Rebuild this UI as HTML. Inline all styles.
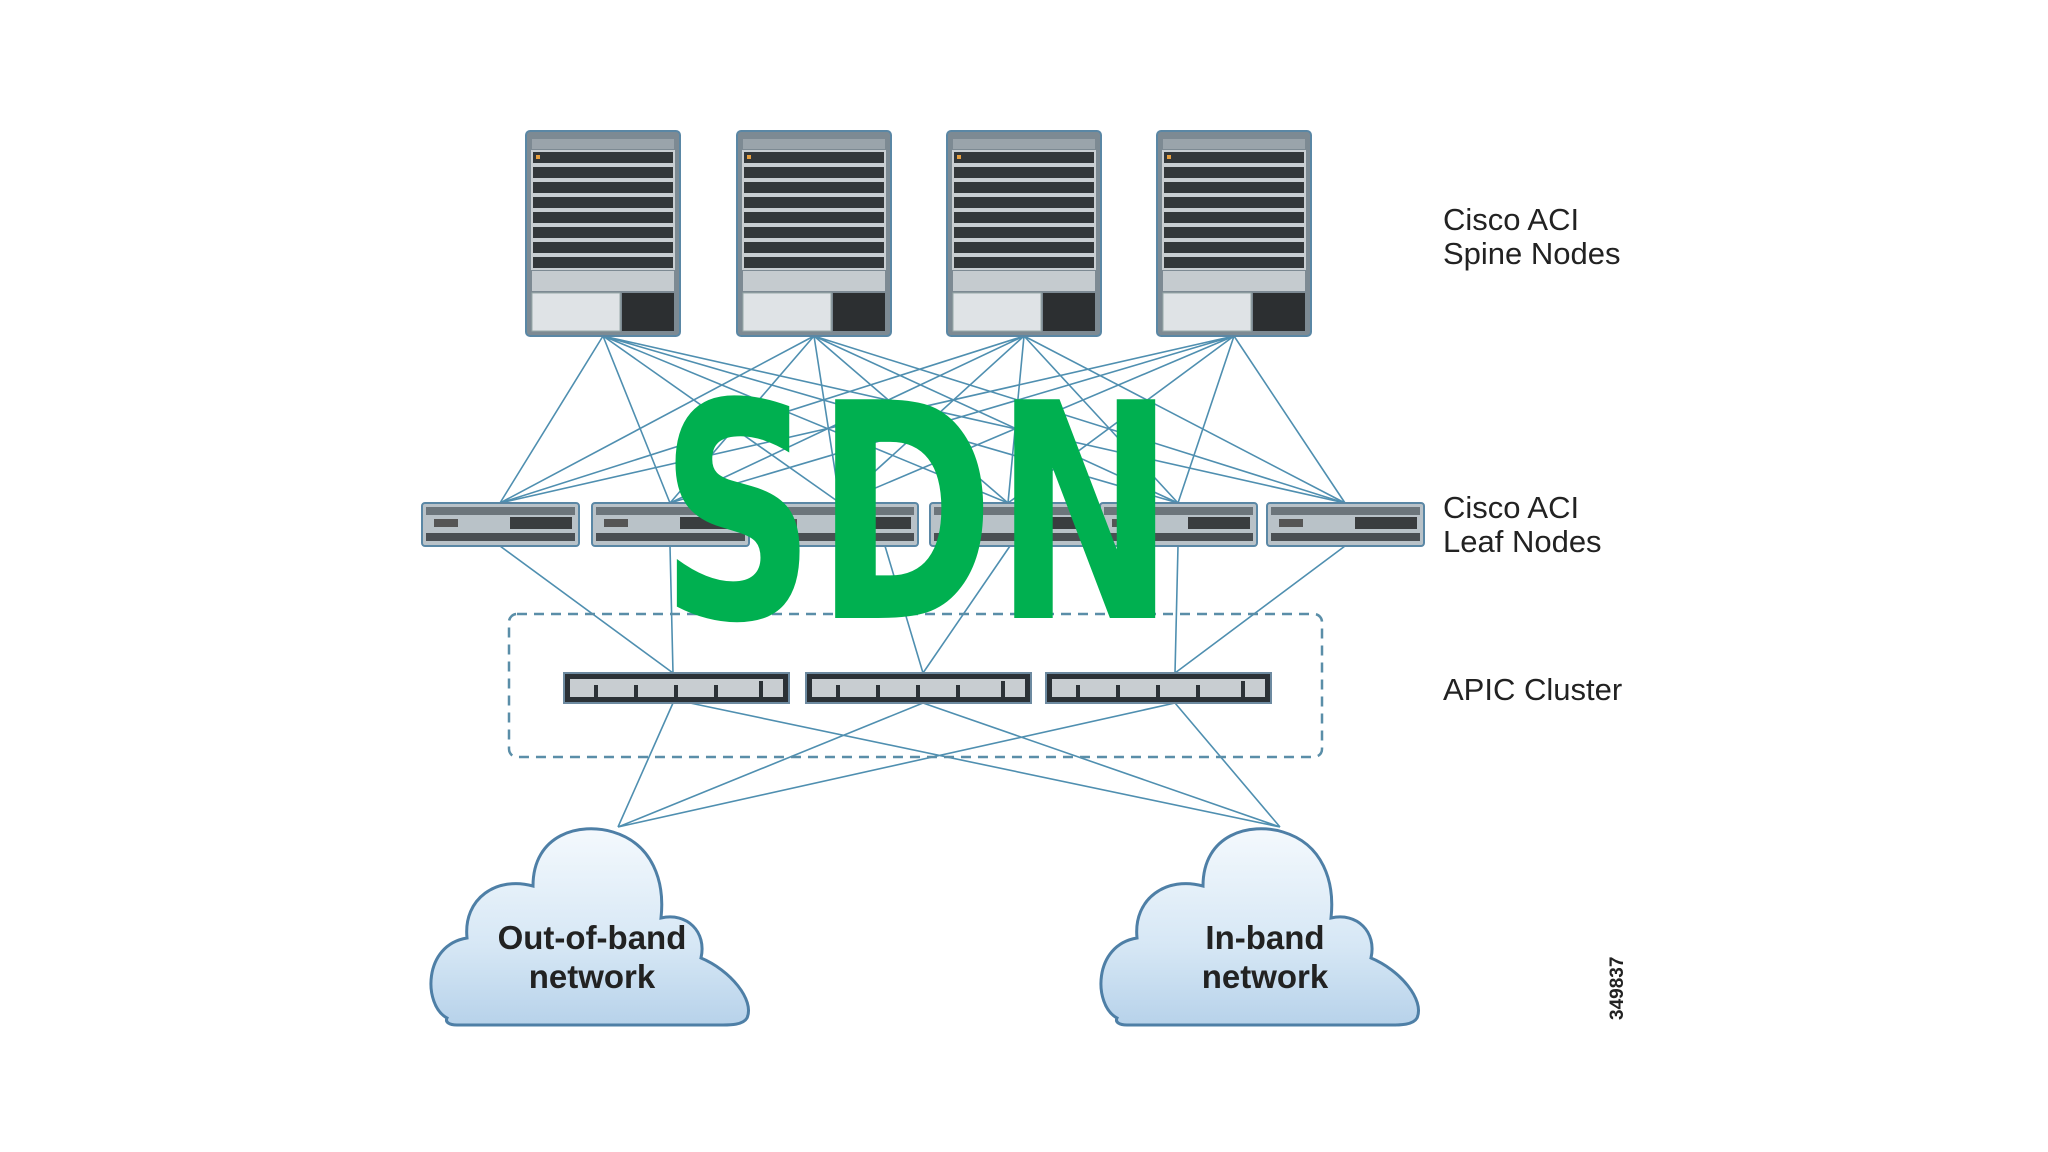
<!DOCTYPE html>
<html><head><meta charset="utf-8"><style>
html,body{margin:0;padding:0;background:#fff;}
svg{display:block}
</style></head><body>
<svg width="2048" height="1152" viewBox="0 0 2048 1152" xmlns="http://www.w3.org/2000/svg">
<defs>
<linearGradient id="cl" x1="0" y1="0" x2="0" y2="1">
<stop offset="0" stop-color="#f4f9fd"/><stop offset="0.6" stop-color="#d6e7f5"/><stop offset="1" stop-color="#b7d2ea"/>
</linearGradient>
<g id="spine">
<rect x="0" y="0" width="154" height="205" rx="4" fill="#7d8a93" stroke="#5a87a5" stroke-width="2"/>
<rect x="6" y="8" width="142" height="10" fill="#9aa4ab"/>
<g fill="#33373a" stroke="#c9ced2" stroke-width="2">
<rect x="6" y="20" width="142" height="13"/><rect x="6" y="35" width="142" height="13"/>
<rect x="6" y="50" width="142" height="13"/><rect x="6" y="65" width="142" height="13"/>
<rect x="6" y="80" width="142" height="13"/><rect x="6" y="95" width="142" height="13"/>
<rect x="6" y="110" width="142" height="13"/><rect x="6" y="125" width="142" height="13"/>
</g>
<g fill="#e8a040"><rect x="10" y="24" width="4" height="4"/></g>
<rect x="6" y="140" width="142" height="20" fill="#c5cbcf"/>
<rect x="6" y="162" width="88" height="38" fill="#dfe3e6" stroke="#9aa" />
<rect x="96" y="162" width="52" height="38" fill="#2c2f31"/>
</g>
<g id="leaf">
<rect x="0" y="0" width="157" height="43" rx="3" fill="#b9c2c8" stroke="#5a87a5" stroke-width="2"/>
<rect x="4" y="4" width="149" height="8" fill="#6c757b"/>
<rect x="12" y="16" width="24" height="8" fill="#555"/>
<rect x="88" y="14" width="62" height="12" fill="#3a3d3f"/>
<rect x="4" y="30" width="149" height="8" fill="#4a4f53"/>
</g>
<g id="apic">
<rect x="0" y="0" width="225" height="30" fill="#2b3136" stroke="#6d8aa0" stroke-width="2"/>
<rect x="6" y="6" width="213" height="18" fill="#c8cdd1"/>
<g fill="#2b3136"><rect x="30" y="12" width="4" height="12"/><rect x="70" y="12" width="4" height="12"/><rect x="110" y="12" width="4" height="12"/><rect x="150" y="12" width="4" height="12"/><rect x="195" y="8" width="4" height="16"/></g>
</g>
<path id="cloud" d="M22,198 C-2,185 -2,125 42,118 C38,78 72,56 108,66 C108,14 155,2 188,12 C228,24 240,62 236,98 C262,92 282,112 276,138 C305,150 330,180 322,198 C318,205 305,205 298,205 L32,205 C24,205 20,202 22,198 Z"/>
</defs>

<g stroke="#4f8fb0" stroke-width="1.6" fill="none">
<g>
<path d="M603,336L500,503M603,336L670,503M603,336L840,503M603,336L1008,503M603,336L1178,503M603,336L1345,503"/>
<path d="M814,336L500,503M814,336L670,503M814,336L840,503M814,336L1008,503M814,336L1178,503M814,336L1345,503"/>
<path d="M1024,336L500,503M1024,336L670,503M1024,336L840,503M1024,336L1008,503M1024,336L1178,503M1024,336L1345,503"/>
<path d="M1234,336L500,503M1234,336L670,503M1234,336L840,503M1234,336L1008,503M1234,336L1178,503M1234,336L1345,503"/>
</g>
<path d="M500,546L673,673M670,546L673,673M885,546L923,673M1010,546L923,673M1178,546L1175,673M1345,546L1175,673"/>
<path d="M673,703L618,827M690,703L1280,827M923,703L618,827M923,703L1280,827M1175,703L618,827M1175,703L1280,827"/>
</g>

<rect x="509" y="614" width="813" height="143" rx="8" fill="none" stroke="#5a8ea8" stroke-width="2.5" stroke-dasharray="10,7"/>

<use href="#spine" x="526" y="131"/>
<use href="#spine" x="737" y="131"/>
<use href="#spine" x="947" y="131"/>
<use href="#spine" x="1157" y="131"/>

<use href="#leaf" x="422" y="503"/>
<use href="#leaf" x="592" y="503"/>
<use href="#leaf" x="761" y="503"/>
<use href="#leaf" x="930" y="503"/>
<use href="#leaf" x="1100" y="503"/>
<use href="#leaf" x="1267" y="503"/>

<use href="#apic" x="564" y="673"/>
<use href="#apic" x="806" y="673"/>
<use href="#apic" x="1046" y="673"/>

<g fill="url(#cl)" stroke="#4e7fa6" stroke-width="3">
<use href="#cloud" x="425" y="820"/>
<use href="#cloud" x="1095" y="820"/>
</g>

<g font-family="Liberation Sans, sans-serif" fill="#222">
<text x="1443" y="230" font-size="31">Cisco ACI</text>
<text x="1443" y="264" font-size="31">Spine Nodes</text>
<text x="1443" y="518" font-size="31">Cisco ACI</text>
<text x="1443" y="552" font-size="31">Leaf Nodes</text>
<text x="1443" y="700" font-size="31">APIC Cluster</text>
<g font-weight="bold" font-size="33" text-anchor="middle">
<text x="592" y="949">Out-of-band</text>
<text x="592" y="988">network</text>
<text x="1265" y="949">In-band</text>
<text x="1265" y="988">network</text>
</g>
<text transform="translate(1623,1020) rotate(-90)" font-size="19" font-weight="bold">349837</text>
</g>

<text x="660" y="618" font-family="DejaVu Sans, sans-serif" font-weight="bold" font-size="300" fill="#00b050" textLength="515" lengthAdjust="spacingAndGlyphs">SDN</text>
</svg>
</body></html>
